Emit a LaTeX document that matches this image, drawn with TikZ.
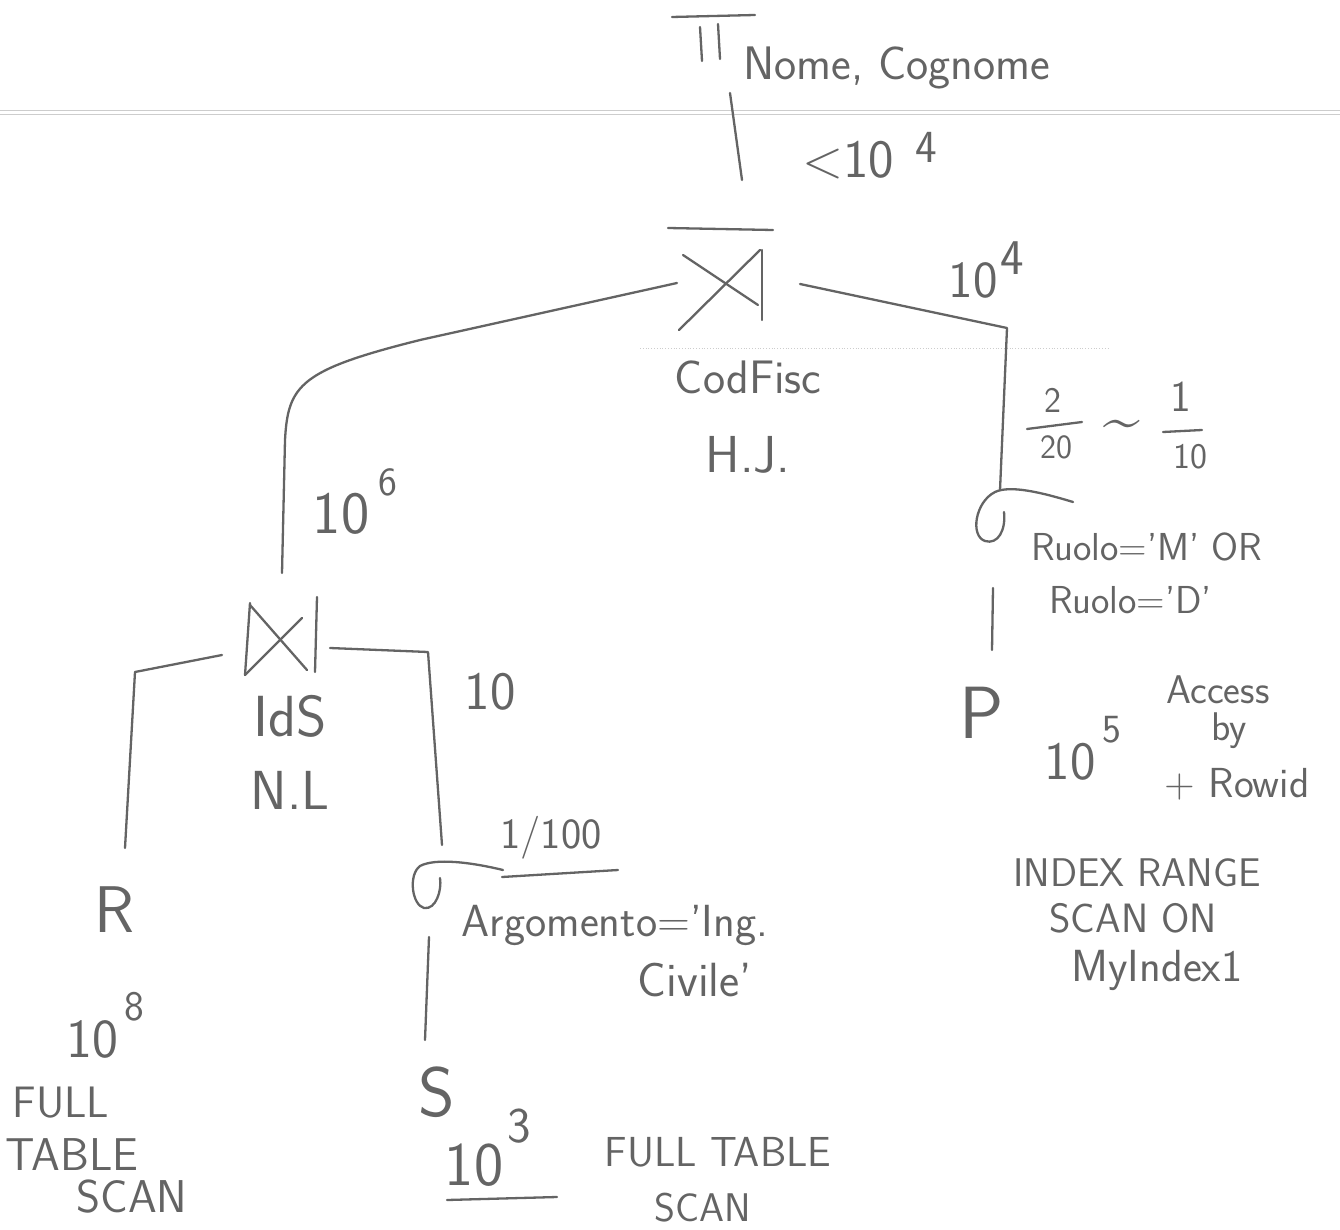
\documentclass[tikz,border=0pt]{standalone}
\usepackage{tikz}
\definecolor{ink}{RGB}{100,100,100}
\definecolor{ruling}{RGB}{205,205,205}
\tikzset{
  pen/.style={draw=ink, line width=2.3pt, line cap=round, line join=round},
  lbl/.style={text=ink, inner sep=0pt, font=\sffamily\fontsize{#1}{#1}\selectfont},
  lbl/.default=36,
  paperline/.style={draw=ruling, line width=0.8pt}
}
\begin{document}
\begin{tikzpicture}[x=1pt,y=-1pt]
\useasboundingbox (0,0) rectangle (1340,1230);
% paper ruling
\draw[paperline] (0,110) -- (1340,110);
\draw[paperline] (0,114) -- (1340,114);
\draw[paperline, dotted, line width=1pt] (640,348) -- (1110,348);

% ---------- projection ----------
\coordinate (proj) at (712,40);
\draw[pen] (672,17) -- (755,15);
\draw[pen] (700,27) -- (702,61);
\draw[pen] (718,24) -- (720,59);
\node[lbl=47, anchor=base west] (projattr) at (743,80) {Nome, Cognome};
\coordinate (projB) at (730,93);

% ---------- top hash join ----------
\coordinate (hj) at (722,288);
\draw[pen] (668,228) -- (773,230);
\draw[pen] (683,255) -- (758,305);
\draw[pen] (679,330) -- (760,250);
\draw[pen] (762,250) -- (762,320);
\coordinate (hjT) at (742,180);
\coordinate (hjL) at (677,283);
\coordinate (hjR) at (800,284);
\node[lbl=47] (hjattr) at (748,377) {CodFisc};
\node[lbl=52] (hjalg) at (748,455) {H.J.};

\draw[pen] (projB) -- (hjT);
\node[lbl=54] (card0) at (848,160) {<10};
\node[lbl=46] (card0e) at (926,147) {4};

% ---------- nested loop join ----------
\coordinate (nl) at (282,636);
\draw[pen] (250,603) -- (245,675);
\draw[pen] (250,605) -- (307,670);
\draw[pen] (245,675) -- (302,618);
\draw[pen] (317,597) -- (315,672);
\coordinate (nlT) at (282,573);
\coordinate (nlL) at (222,655);
\coordinate (nlR) at (330,648);
\node[lbl=58] (nlattr) at (290,716) {IdS};
\node[lbl=55] (nlalg) at (290,790) {N.L};

\draw[pen] (hjL) -- (420,340) .. controls (300,370) and (288,385) .. (285,440) -- (nlT);
\node[lbl=60] (card1) at (341,514) {10};
\node[lbl=40] (card1e) at (388,482) {6};

% ---------- selection on P ----------
\coordinate (selP) at (990,515);
\draw[pen] (1073,502) .. controls (1040,492) and (1010,485) .. (995,492)
  .. controls (975,502) and (970,536) .. (985,541)
  .. controls (998,545) and (1006,530) .. (1004,512);
\coordinate (selPT) at (1000,490);
\coordinate (selPB) at (993,588);
\node[lbl=39] (selPc1) at (1147,547) {Ruolo='M' OR};
\node[lbl=39] (selPc2) at (1131,600) {Ruolo='D'};

\draw[pen] (hjR) -- (1007,328) -- (selPT);
\node[lbl=52] (card2) at (973,280) {10};
\node[lbl=50] (card2e) at (1012,258) {4};

% selectivity 2/20 ~ 1/10
\node[lbl=36] (f1n) at (1053,400) {2};
\draw[pen] (1027,429) -- (1082,422);
\node[lbl=34] (f1d) at (1056,447) {20};
\node[lbl=66] (approx) at (1122,430) {\textasciitilde};
\node[lbl=44] (f2n) at (1181,397) {1};
\draw[pen] (1163,432) -- (1202,430);
\node[lbl=36] (f2d) at (1190,457) {10};

% ---------- relation P ----------
\node[lbl=74] (P) at (982,713) {P};
\coordinate (pT) at (992,650);
\draw[pen] (selPB) -- (pT);
\node[lbl=54] (card3) at (1070,762) {10};
\node[lbl=40] (card3e) at (1112,730) {5};
\node[lbl=40] (acc1) at (1218,690) {Access};
\node[lbl=40] (acc2) at (1229,731) {by};
\node[lbl=42] (acc3) at (1237,784) {+ Rowid};
\node[lbl=40] (ix1) at (1137,873) {INDEX RANGE};
\node[lbl=41] (ix2) at (1133,918) {SCAN ON};
\node[lbl=45] (ix3) at (1157,970) {MyIndex1};

% ---------- relation R ----------
\node[lbl=66] (R) at (114,910) {R};
\coordinate (rT) at (125,848);
\draw[pen] (nlL) -- (135,672) -- (rT);
\node[lbl=55] (card4) at (92,1039) {10};
\node[lbl=42] (card4e) at (134,1007) {8};
\node[lbl=44] (r1) at (61,1103) {FULL};
\node[lbl=46] (r2) at (72,1155) {TABLE};
\node[lbl=46] (r3) at (132,1197) {SCAN};

% ---------- selection on S ----------
\coordinate (selS) at (428,885);
\draw[pen] (503,870) .. controls (470,862) and (435,858) .. (420,866)
  .. controls (408,875) and (412,905) .. (424,908)
  .. controls (436,910) and (442,890) .. (440,878);
\draw[pen] (502,877) -- (618,870);
\coordinate (selST) at (442,845);
\coordinate (selSB) at (429,937);
\node[lbl=45] (selSc1) at (615,925) {Argomento='Ing.};
\node[lbl=48] (selSc2) at (695,980) {Civile'};
\node[lbl=43] (selSsel) at (551,838) {1/100};

\draw[pen] (nlR) -- (428,652) -- (selST);
\node[lbl=54] (card5) at (490,692) {10};

% ---------- relation S ----------
\node[lbl=70] (S) at (437,1092) {S};
\coordinate (sT) at (425,1040);
\draw[pen] (selSB) -- (sT);
\node[lbl=62] (card6) at (474,1165) {10};
\node[lbl=50] (card6e) at (519,1126) {3};
\draw[pen] (447,1200) -- (557,1197);
\node[lbl=42] (s1) at (718,1152) {FULL TABLE};
\node[lbl=40] (s2) at (703,1208) {SCAN};
\end{tikzpicture}
\end{document}
